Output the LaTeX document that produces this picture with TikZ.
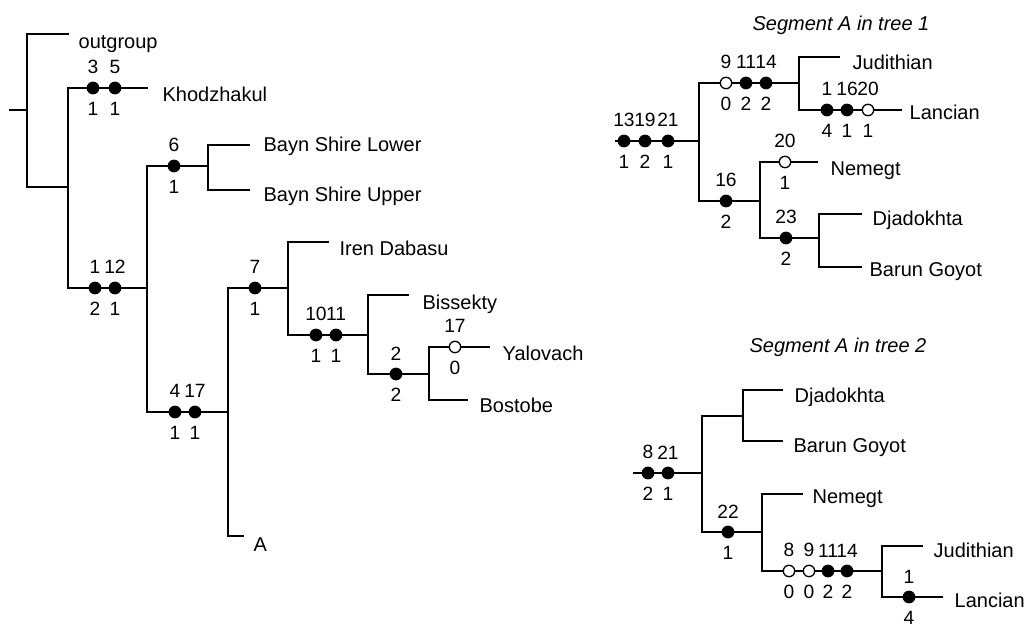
\documentclass[tikz,border=0pt]{standalone}
\usepackage{fontspec}
\setmainfont{Liberation Sans}
\usepackage{tikz}

\begin{document}
\begin{tikzpicture}[x=0.5pt, y=-0.5pt, line width=0.65pt,
    every node/.style={font=\fontsize{10}{12}\selectfont},
    taxon/.style={anchor=base west, inner sep=0pt},
    ttl/.style={anchor=base, inner sep=0pt, font=\fontsize{10}{12}\selectfont\itshape},
    syn/.style={circle, draw, fill=black, inner sep=0pt, minimum size=5.7pt, label distance=0pt},
    hom/.style={syn, fill=white},
    every label/.style={inner xsep=0pt, inner ysep=3.5pt, font=\fontsize{9.6}{11}\selectfont}
]
    \useasboundingbox (0,0) rectangle (1030,626);

    % full tree
    \coordinate (stub) at (9,110);
    \coordinate (root) at (27,110);
    \coordinate (og) at (69,34);
    \coordinate (nX) at (68,187);
    \coordinate (kh) at (148,88);
    \coordinate (nY) at (147,288);
    \coordinate (nB) at (208,166);
    \coordinate (bsl) at (250,145);
    \coordinate (bsu) at (250,190);
    \coordinate (nZ) at (228,412);
    \coordinate (segA) at (244,536);
    \coordinate (n7) at (288,288);
    \coordinate (ir) at (329,242);
    \coordinate (nC) at (368,335);
    \coordinate (bi) at (409,295);
    \coordinate (nD) at (429,374);
    \coordinate (ya) at (490,347);
    \coordinate (bo) at (468,400);

    \draw (stub) -- (root);
    \draw (root) |- (og);
    \draw (root) |- (nX);
    \draw (nX) |- (kh);
    \draw (nX) |- (nY);
    \draw (nY) |- (nB);
    \draw (nY) |- (nZ);
    \draw (nB) |- (bsl);
    \draw (nB) |- (bsu);
    \draw (nZ) |- (n7);
    \draw (nZ) |- (segA);
    \draw (n7) |- (ir);
    \draw (n7) |- (nC);
    \draw (nC) |- (bi);
    \draw (nC) |- (nD);
    \draw (nD) |- (ya);
    \draw (nD) |- (bo);

    \node[syn, label=above:3, label=below:1] (kh3) at (93,88) {};
    \node[syn, label=above:5, label=below:1] (kh5) at (115,88) {};
    \node[syn, label=above:1, label=below:2] (y1) at (95,288) {};
    \node[syn, label=above:12, label=below:1] (y12) at (115,288) {};
    \node[syn, label=above:6, label=below:1] (b6) at (174,166) {};
    \node[syn, label=above:4, label=below:1] (z4) at (175,412) {};
    \node[syn, label=above:17, label=below:1] (z17) at (195,412) {};
    \node[syn, label=above:7, label=below:1] (c7) at (255,288) {};
    \node[syn, label=above:10, label=below:1] (d10) at (316,335) {};
    \node[syn, label=above:11, label=below:1] (d11) at (336,335) {};
    \node[syn, label=above:2, label=below:2] (e2) at (396,374) {};
    \node[hom, label=above:17, label=below:0] (ya17) at (455,347) {};

    \node[taxon] (tog) at (78,49) {outgroup};
    \node[taxon] (tkh) at (162,102) {Khodzhakul};
    \node[taxon] (tbsl) at (263,152) {Bayn Shire Lower};
    \node[taxon] (tbsu) at (263,202) {Bayn Shire Upper};
    \node[taxon] (tir) at (339,256) {Iren Dabasu};
    \node[taxon] (tbi) at (422,310) {Bissekty};
    \node[taxon] (tya) at (502,361) {Yalovach};
    \node[taxon] (tbo) at (479,413) {Bostobe};
    \node[taxon] (tA) at (253,551) {A};

    % segment A, tree 1
    \node[ttl] (title1) at (841,31) {Segment A in tree 1};
    \coordinate (s1) at (615,141);
    \coordinate (r1) at (699,141);
    \coordinate (a1) at (799,83);
    \coordinate (ju1) at (840,57);
    \coordinate (la1) at (902,110);
    \coordinate (b1) at (760,201);
    \coordinate (ne1) at (818,162);
    \coordinate (c1) at (819,238);
    \coordinate (dj1) at (862,214);
    \coordinate (bg1) at (862,267);

    \draw (s1) -- (r1);
    \draw (r1) |- (a1);
    \draw (r1) |- (b1);
    \draw (a1) |- (ju1);
    \draw (a1) |- (la1);
    \draw (b1) |- (ne1);
    \draw (b1) |- (c1);
    \draw (c1) |- (dj1);
    \draw (c1) |- (bg1);

    \node[syn, label=above:13, label=below:1] (r1a) at (624,141) {};
    \node[syn, label=above:19, label=below:2] (r1b) at (645,141) {};
    \node[syn, label=above:21, label=below:1] (r1c) at (668,141) {};
    \node[hom, label=above:9, label=below:0] (a1a) at (726,83) {};
    \node[syn, label=above:11, label=below:2] (a1b) at (746,83) {};
    \node[syn, label=above:14, label=below:2] (a1c) at (766,83) {};
    \node[syn, label=above:1, label=below:4] (la1a) at (827,110) {};
    \node[syn, label=above:16, label=below:1] (la1b) at (847,110) {};
    \node[hom, label=above:20, label=below:1] (la1c) at (868,110) {};
    \node[syn, label=above:16, label=below:2] (b1a) at (726,201) {};
    \node[hom, label=above:20, label=below:1] (ne1a) at (785,162) {};
    \node[syn, label=above:23, label=below:2] (c1a) at (786,238) {};

    \node[taxon] (tju1) at (852,70) {Judithian};
    \node[taxon] (tla1) at (909,120) {Lancian};
    \node[taxon] (tne1) at (830,176) {Nemegt};
    \node[taxon] (tdj1) at (872,226) {Djadokhta};
    \node[taxon] (tbg1) at (869,277) {Barun Goyot};

    % segment A, tree 2
    \node[ttl] (title2) at (838,352) {Segment A in tree 2};
    \coordinate (s2) at (633,473);
    \coordinate (r2) at (702,473);
    \coordinate (a2) at (743,416);
    \coordinate (dj2) at (783,390);
    \coordinate (bg2) at (783,441);
    \coordinate (b2) at (762,532);
    \coordinate (ne2) at (803,494);
    \coordinate (c2) at (882,571);
    \coordinate (ju2) at (923,546);
    \coordinate (la2) at (943,597);

    \draw (s2) -- (r2);
    \draw (r2) |- (a2);
    \draw (r2) |- (b2);
    \draw (a2) |- (dj2);
    \draw (a2) |- (bg2);
    \draw (b2) |- (ne2);
    \draw (b2) |- (c2);
    \draw (c2) |- (ju2);
    \draw (c2) |- (la2);

    \node[syn, label=above:8, label=below:2] (r2a) at (648,473) {};
    \node[syn, label=above:21, label=below:1] (r2b) at (668,473) {};
    \node[syn, label=above:22, label=below:1] (b2a) at (728,532) {};
    \node[hom, label=above:8, label=below:0] (c2a) at (789,571) {};
    \node[hom, label=above:9, label=below:0] (c2b) at (809,571) {};
    \node[syn, label=above:11, label=below:2] (c2c) at (828,571) {};
    \node[syn, label=above:14, label=below:2] (c2d) at (847,571) {};
    \node[syn, label=above:1, label=below:4] (la2a) at (909,597) {};

    \node[taxon] (tdj2) at (794,402) {Djadokhta};
    \node[taxon] (tbg2) at (793,452) {Barun Goyot};
    \node[taxon] (tne2) at (812,503) {Nemegt};
    \node[taxon] (tju2) at (933,557) {Judithian};
    \node[taxon] (tla2) at (954,607) {Lancian};
\end{tikzpicture}
\end{document}
